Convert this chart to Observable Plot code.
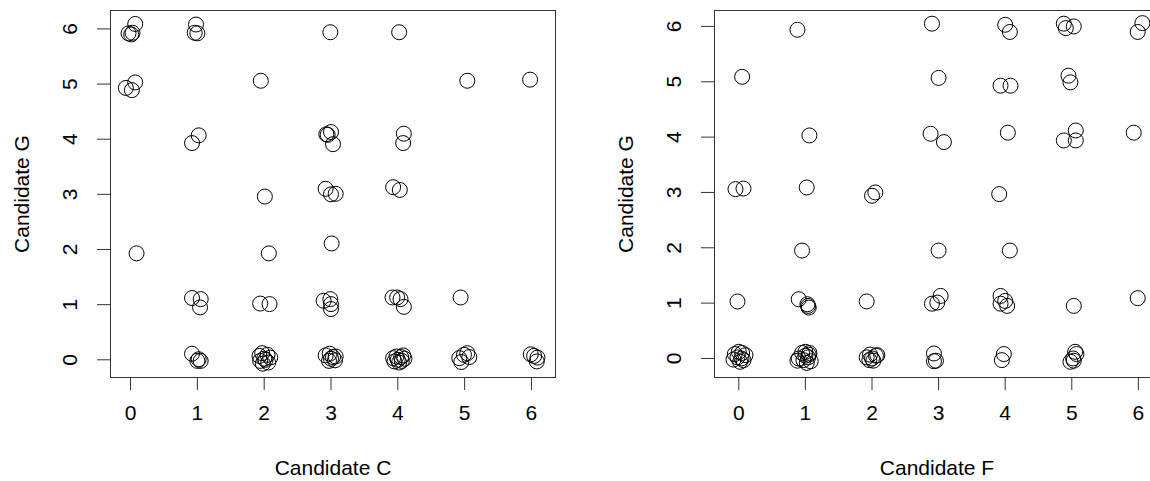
<!DOCTYPE html>
<html><head><meta charset="utf-8">
<script src="https://cdn.jsdelivr.net/npm/d3@7"></script>
<script src="https://cdn.jsdelivr.net/npm/@observablehq/plot@0.6"></script>
<style>
html,body{margin:0;padding:0;background:#fff;overflow:hidden;}
#wrap{position:relative;width:1150px;height:481px;overflow:hidden;background:#fff;}
#left{position:absolute;left:0;top:0;width:575px;}
#right{position:absolute;left:575px;top:0;width:600px;}
#wrap svg{max-width:none !important;display:block;}
</style></head><body>
<div id="wrap"><div id="left"></div><div id="right"></div></div>
<script>
const xTicks = [0, 1, 2, 3, 4, 5, 6];
const yTicks = [0, 1, 2, 3, 4, 5, 6];
const leftXLabel = "Candidate C";
const rightXLabel = "Candidate F";
const yLabel = "Candidate G";

// Left panel: Candidate C (x) vs Candidate G (y), jittered
const leftC = [-0.03,0.03,0.07,0.01,0.98,0.96,1.00,2.99,4.02,-0.07,0.07,0.02,1.95,5.04,5.98,0.92,1.02,2.93,2.95,3.00,3.03,4.09,4.08,2.01,2.92,3.00,3.07,3.93,4.03,0.09,2.07,3.01,0.92,1.05,1.04,1.94,2.08,2.89,2.99,3.00,3.00,3.92,3.99,4.04,4.09,4.94,0.92,1.00,1.05,1.02,
  1.93,1.97,2.00,2.05,2.09,2.06,1.98,1.94,2.02,
  2.92,2.98,3.03,3.06,2.97,3.00,3.07,
  3.93,3.95,4.00,4.05,4.08,4.10,4.02,4.06,3.98,
  4.92,4.99,5.04,5.07,4.95,
  5.99,6.04,6.09,6.08];
const leftG = [5.92,5.93,6.09,5.90,6.08,5.93,5.92,5.94,5.94,4.93,5.03,4.89,5.06,5.06,5.08,3.93,4.07,4.09,4.08,4.13,3.91,4.10,3.93,2.96,3.10,3.00,3.01,3.13,3.08,1.93,1.93,2.11,1.12,1.10,0.95,1.02,1.01,1.07,1.10,0.92,1.01,1.13,1.13,1.10,0.96,1.13,0.11,-0.02,-0.02,0.01,
  0.07,0.12,0.02,0.09,0.04,-0.05,-0.07,-0.02,0.00,
  0.08,0.11,0.05,-0.01,-0.02,0.02,0.06,
  0.03,-0.03,0.00,0.05,0.08,0.02,-0.05,-0.02,0.06,
  0.03,0.09,0.12,0.05,-0.04,
  0.10,0.07,0.04,-0.03];

// Right panel: Candidate F (x) vs Candidate G (y), jittered
const rightF = [0.88,0.05,1.06,2.90,2.88,-0.05,0.07,1.02,2.05,2.00,
  0.95,-0.02,0.90,1.04,1.05,1.03,1.92,
  4.00,4.07,4.88,4.91,5.03,6.06,5.99,
  3.00,3.93,4.08,4.95,4.98,
  3.08,4.04,4.88,5.06,5.06,5.93,
  3.91,3.00,4.07,
  3.03,2.90,2.98,
  3.93,3.93,4.03,4.00,
  5.03,5.99,
  2.93,2.93,2.96,
  3.98,3.95,
  5.05,5.07,5.02,4.98,5.03,
  -0.06,0.00,0.05,0.10,-0.08,0.02,-0.02,0.07,0.04,
  0.90,0.95,1.00,1.05,1.08,1.02,0.97,1.04,1.00,0.88,1.06,
  1.92,1.97,2.06,2.02,1.96,2.00,2.08];
const rightG = [5.94,5.09,4.03,6.05,4.06,3.06,3.07,3.09,3.00,2.94,
  1.95,1.03,1.07,0.95,0.92,0.98,1.03,
  6.03,5.90,6.05,5.97,6.00,6.06,5.90,
  5.07,4.93,4.93,5.11,4.99,
  3.91,4.08,3.94,4.12,3.94,4.08,
  2.97,1.95,1.95,
  1.13,0.99,1.01,
  1.13,0.99,0.95,1.04,
  0.95,1.09,
  0.09,-0.05,-0.04,
  0.08,-0.03,
  0.12,0.08,0.00,-0.06,-0.04,
  0.08,0.12,0.10,0.06,-0.02,-0.06,0.02,-0.03,0.00,
  0.00,0.10,0.12,0.07,-0.05,-0.08,-0.03,0.02,0.05,-0.04,0.10,
  0.02,0.07,0.05,-0.04,-0.03,0.00,0.06];

function panel(xs, ys, xDomain, yDomain, width, marginLeft, xLabel) {
  const data = xs.map((x, i) => ({x, y: ys[i]}));
  return Plot.plot({
    width, height: 481,
    marginLeft, marginRight: width - marginLeft - 445,
    marginTop: 10, marginBottom: 104,
    x: {domain: xDomain, axis: null},
    y: {domain: yDomain, axis: null},
    style: {fontFamily: "'Liberation Sans', Arial, sans-serif", fontSize: "21px", color: "black", background: "white", overflow: "visible"},
    marks: [
      Plot.frame({stroke: "#333", strokeWidth: 1}),
      Plot.axisX({ticks: xTicks, tickSize: 13, tickFormat: () => "", label: null, stroke: "#333"}),
      Plot.axisY({ticks: yTicks, tickSize: 13, tickFormat: () => "", label: null, stroke: "#333"}),
      Plot.dot(data, {x: "x", y: "y", r: 7.5, stroke: "black", fill: "none", strokeWidth: 1}),
      Plot.text(xTicks, {x: d => d, frameAnchor: "bottom", dy: 36, lineAnchor: "middle", text: d => String(d), fill: "black"}),
      Plot.text(yTicks, {y: d => d, frameAnchor: "left", dx: -40, rotate: -90, lineAnchor: "middle", textAnchor: "middle", text: d => String(d), fill: "black"}),
      Plot.text([xLabel], {frameAnchor: "bottom", dy: 91, lineAnchor: "middle", text: d => d, fill: "black"}),
      Plot.text([yLabel], {frameAnchor: "left", dx: -88, rotate: -90, lineAnchor: "middle", textAnchor: "middle", text: d => d, fill: "black"})
    ]
  });
}

document.getElementById("left").appendChild(
  panel(leftC, leftG, [-0.3, 6.36], [-0.321, 6.334], 575, 110, leftXLabel));
document.getElementById("right").appendChild(
  panel(rightF, rightG, [-0.365, 6.317], [-0.344, 6.288], 600, 139, rightXLabel));
</script>
</body></html>
